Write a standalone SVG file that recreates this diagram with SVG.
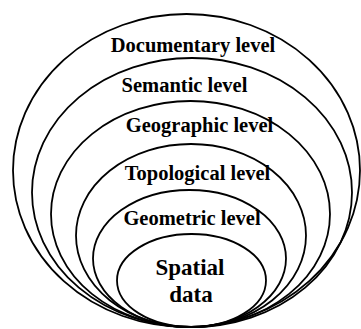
<svg xmlns="http://www.w3.org/2000/svg" width="361" height="329" viewBox="0 0 361 329">
<style>
.ring{fill:none;stroke:#000;stroke-width:1.8}
.lbl{font-family:"Liberation Serif","Times New Roman",serif;font-weight:bold;font-size:20.5px;fill:#000;text-anchor:middle}
.core{font-size:23px}
</style>
<rect width="361" height="329" fill="#fff"/>
<g id="documentary">
<ellipse class="ring" cx="186.5" cy="170.5" rx="173.5" ry="156.5"/>
<text class="lbl" x="193" y="52">Documentary level</text>
</g>
<g id="semantic">
<ellipse class="ring" cx="192" cy="192.5" rx="160" ry="134.5"/>
<text class="lbl" x="184.5" y="92">Semantic level</text>
</g>
<g id="geographic">
<ellipse class="ring" cx="190.5" cy="214" rx="139.5" ry="113"/>
<text class="lbl" x="199.5" y="132">Geographic level</text>
</g>
<g id="topological">
<ellipse class="ring" cx="191" cy="235.5" rx="115" ry="91.5"/>
<text class="lbl" x="197.5" y="180">Topological level</text>
</g>
<g id="geometric">
<ellipse class="ring" cx="189.5" cy="258.5" rx="96.5" ry="68.5"/>
<text class="lbl" x="192" y="225">Geometric level</text>
</g>
<g id="spatial">
<ellipse class="ring" cx="191.5" cy="280.5" rx="74.5" ry="46.5"/>
<text class="lbl core" x="190" y="275">Spatial</text>
<text class="lbl core" x="191" y="302">data</text>
</g>
<g id="connectors"/>
</svg>
